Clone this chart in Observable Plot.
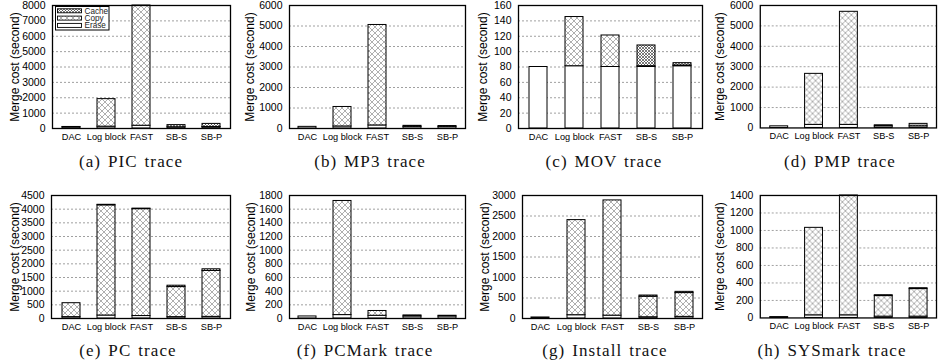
<!DOCTYPE html>
<html><head><meta charset="utf-8">
<script src="https://cdn.jsdelivr.net/npm/d3@7"></script>
<script src="https://cdn.jsdelivr.net/npm/@observablehq/plot@0.6"></script>
<style>
body{margin:0;background:#fff;}
#chart{position:relative;width:941px;height:364px;overflow:hidden;font-family:"Liberation Sans",Arial,sans-serif;background:#fff;}
.panel{position:absolute;}
.panel svg{overflow:visible;}
.cap{position:absolute;font-family:"Liberation Serif","Times New Roman",serif;font-size:17px;line-height:17px;letter-spacing:1.1px;word-spacing:1.5px;white-space:nowrap;transform:translateX(-50%);color:#111;}
.legend{position:absolute;}
</style></head><body>
<svg width="0" height="0" style="position:absolute">
<defs>
<pattern id="patErase" width="4" height="4" patternUnits="userSpaceOnUse"><rect width="4" height="4" fill="#fff"/></pattern>
<pattern id="patCopy" width="6" height="6" patternUnits="userSpaceOnUse"><rect width="6" height="6" fill="#fff"/><path d="M0,0L6,6M6,0L0,6" stroke="#9a9a9a" stroke-width="0.8"/></pattern>
<pattern id="patCache" width="3" height="3" patternUnits="userSpaceOnUse"><rect width="3" height="3" fill="#fff"/><path d="M0,0L3,3M3,0L0,3" stroke="#444" stroke-width="0.7"/></pattern>
</defs></svg>
<div id="chart"></div>
<script>
// ---------- data ----------
const categories = ["DAC", "Log block", "FAST", "SB-S", "SB-P"];
const series = ["Erase", "Copy", "Cache"];
const legendOrder = ["Cache", "Copy", "Erase"];
const captions = ["(a) PIC trace", "(b) MP3 trace", "(c) MOV trace", "(d) PMP trace",
                  "(e) PC trace", "(f) PCMark trace", "(g) Install trace", "(h) SYSmark trace"];
const yLabel = "Merge cost (second)";
const yMax  = [8000, 6000, 160, 6000, 4500, 1800, 3000, 1400];
const yStep = [1000, 1000, 20, 1000, 500, 200, 500, 200];

const picErase = [80, 120, 180, 80, 80];
const picCopy  = [20, 1790, 7820, 0, 20];
const picCache = [0, 0, 0, 140, 200];

const mp3Erase = [80, 100, 150, 80, 80];
const mp3Copy  = [0, 950, 4900, 0, 0];
const mp3Cache = [0, 0, 0, 50, 40];

const movErase = [80, 81, 80, 80, 81];
const movCopy  = [0, 64, 41, 1, 1];
const movCache = [0, 0, 0, 27, 3];

const pmpErase = [80, 150, 150, 80, 80];
const pmpCopy  = [0, 2500, 5540, 0, 0];
const pmpCache = [0, 0, 0, 50, 120];

const pcErase = [50, 110, 90, 50, 60];
const pcCopy  = [510, 4030, 3910, 1100, 1680];
const pcCache = [0, 20, 20, 50, 60];

const pcmarkErase = [30, 50, 40, 30, 30];
const pcmarkCopy  = [0, 1670, 70, 0, 0];
const pcmarkCache = [0, 0, 0, 15, 10];

const installErase = [25, 80, 70, 30, 40];
const installCopy  = [0, 2320, 2810, 500, 580];
const installCache = [0, 0, 0, 30, 30];

const sysErase = [10, 30, 30, 15, 15];
const sysCopy  = [0, 1000, 1370, 235, 315];
const sysCache = [0, 0, 0, 10, 10];

const traceData = [
  [picErase, picCopy, picCache], [mp3Erase, mp3Copy, mp3Cache],
  [movErase, movCopy, movCache], [pmpErase, pmpCopy, pmpCache],
  [pcErase, pcCopy, pcCache], [pcmarkErase, pcmarkCopy, pcmarkCache],
  [installErase, installCopy, installCache], [sysErase, sysCopy, sysCache]
];

// ---------- layout ----------
const frameL = [52, 289, 518, 760, 51, 289, 522, 760];
const frameR = [230, 465, 702, 937, 230, 465, 702, 937];
const labelDx = [-37, -39, -35, -40, -36, -38, -37, -40];
const capX = [131, 370, 604, 840, 128, 365, 605, 832];
const rowTop = [0, 190];
const capTop = [153, 342];
const ML = 55, MR = 5, MT = 5, MB = 17, H = 145;

const patterns = {Erase: "url(#patErase)", Copy: "url(#patCopy)", Cache: "url(#patCache)"};
const chart = document.getElementById("chart");

traceData.forEach((arrs, t) => {
  const row = t < 4 ? 0 : 1;
  const rows = [];
  categories.forEach((c, i) => series.forEach((s, j) => {
    if (arrs[j][i] > 0) rows.push({category: c, series: s, value: arrs[j][i]});
  }));
  const ticks = d3.range(0, yMax[t] + yStep[t] / 2, yStep[t]);
  const fw = frameR[t] - frameL[t];
  const plot = Plot.plot({
    width: ML + fw + MR, height: H,
    marginLeft: ML, marginRight: MR, marginTop: MT, marginBottom: MB,
    style: {fontFamily: "'Liberation Sans', Arial, sans-serif", color: "#000", background: "transparent", overflow: "visible"},
    x: {domain: categories, paddingInner: 0.5, paddingOuter: 0.25, label: null},
    y: {domain: [0, yMax[t]], label: null},
    color: {domain: series, range: series.map(s => patterns[s])},
    marks: [
      Plot.ruleY(ticks.slice(1, -1), {stroke: "#888", strokeWidth: 0.8, strokeDasharray: "2,2"}),
      Plot.barY(rows, Plot.stackY({x: "category", y: "value", z: "series", fill: "series", stroke: "#000", strokeWidth: 1})),
      Plot.frame({stroke: "#000", strokeWidth: 1.3}),
      Plot.axisX({tickSize: 0, tickPadding: 5, fontSize: 9.2, label: null}),
      Plot.axisY(ticks, {tickSize: 0, tickPadding: 7, fontSize: 10.5, label: null, tickFormat: d3.format("d")}),
      Plot.text([yLabel], {text: d => d, frameAnchor: "left", rotate: -90, dx: labelDx[t], fontSize: 12, textAnchor: "middle", lineAnchor: "middle"})
    ]
  });
  const div = document.createElement("div");
  div.className = "panel";
  div.style.left = (frameL[t] - ML) + "px";
  div.style.top = rowTop[row] + "px";
  div.appendChild(plot);
  chart.appendChild(div);

  const cap = document.createElement("div");
  cap.className = "cap";
  cap.style.left = capX[t] + "px";
  cap.style.top = capTop[row] + "px";
  cap.textContent = captions[t];
  chart.appendChild(cap);
});

// ---------- legend (inside panel a) ----------
const lg = d3.select(chart).append("svg").attr("class", "legend")
  .style("left", "55px").style("top", "5.5px").attr("width", 55).attr("height", 25);
lg.append("rect").attr("x", 0.5).attr("y", 0.5).attr("width", 53.5).attr("height", 23.5)
  .attr("fill", "#fff").attr("stroke", "#000").attr("stroke-width", 1);
legendOrder.forEach((s, i) => {
  const cy = 4.8 + i * 7.3;
  lg.append("rect").attr("x", 2.5).attr("y", cy - 2).attr("width", 24).attr("height", 4)
    .attr("fill", patterns[s]).attr("stroke", "#000").attr("stroke-width", 0.9);
  lg.append("text").attr("x", 29.5).attr("y", cy + 3).text(s)
    .attr("font-family", "'Liberation Sans', Arial, sans-serif").attr("font-size", 8.2).attr("fill", "#222");
});
</script>
</body></html>
